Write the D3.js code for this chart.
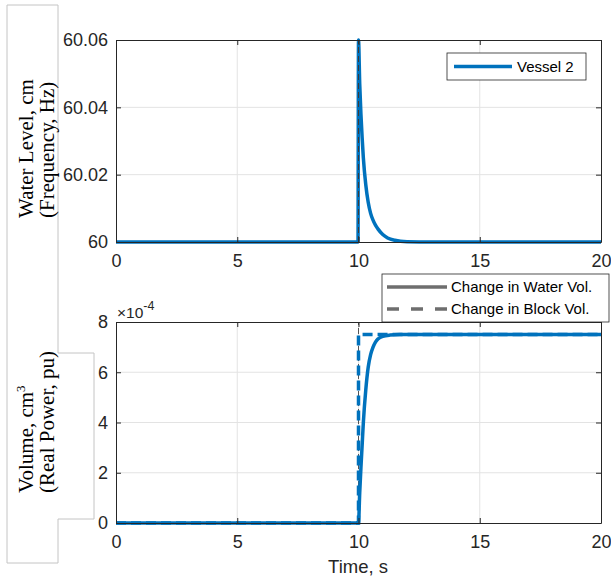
<!DOCTYPE html>
<html>
<head>
<meta charset="utf-8">
<script src="https://cdn.jsdelivr.net/npm/d3@7"></script>
<style>
  body { margin: 0; background: #fff; }
  svg { display: block; }
</style>
</head>
<body>
<div id="chart"></div>
<script>
// Values
const xTicks = [0, 5, 10, 15, 20];
const levelTicks = [60, 60.02, 60.04, 60.06];
const volTicks = [0, 2, 4, 6, 8];

// Vessel 2 water level (cm)
const levelTime  = [0, 9.98, 10, 10.05, 10.1, 10.15, 10.2, 10.3, 10.4, 10.5, 10.6, 10.7, 10.8, 11.0, 11.2, 11.5, 12.0, 13.0, 20];
const levelValue = [60, 60, 60.06, 60.047, 60.038, 60.031, 60.025, 60.017, 60.0118, 60.0085, 60.0065, 60.005, 60.0039, 60.0022, 60.0012, 60.0005, 60.0001, 60, 60];

// Change in water volume (x1e-4 cm^3)
const waterTime = [0, 10, 10.05, 10.1, 10.15, 10.2, 10.3, 10.4, 10.5, 10.6, 10.7, 10.8, 11.0, 11.3, 11.7, 20];
const waterVol  = [0, 0, 1.2, 2.2, 3.1, 4.0, 5.3, 6.2, 6.7, 7.0, 7.2, 7.32, 7.43, 7.48, 7.5, 7.5];

// Change in block volume (x1e-4 cm^3)
const blockTime = [0, 10, 10, 20];
const blockVol  = [0, 0, 7.5, 7.5];

const stepTime = 10;

const width = 611, height = 578;
const sans = "'Liberation Sans', Arial, Helvetica, sans-serif";
const serif = "'Liberation Serif', 'Times New Roman', serif";
const ink = "#262626";
const blue = "#0072BD";

const svg = d3.select("#chart")
    .append("svg")
    .attr("width", width)
    .attr("height", height);

svg.append("rect")
    .attr("width", width)
    .attr("height", height)
    .attr("fill", "#fff");

// frame around the y label captions
svg.append("path")
    .attr("d", "M7,5H58V353H94V519H58V563H7Z")
    .attr("fill", "#fff")
    .attr("stroke", "#c4c4c4")
    .attr("stroke-width", 1);

const x = d3.scaleLinear().domain([0, 20]).range([116, 601]);

function drawGrid(y, yTicks) {
    const [y0, y1] = y.range();
    const g = svg.append("g");
    g.selectAll(".gx")
        .data(xTicks.slice(1, -1))
        .enter().append("line")
        .attr("x1", d => x(d)).attr("x2", d => x(d))
        .attr("y1", y0).attr("y2", y1)
        .attr("stroke", "#e3e3e3");
    g.selectAll(".gy")
        .data(yTicks.slice(1, -1))
        .enter().append("line")
        .attr("x1", x.range()[0]).attr("x2", x.range()[1])
        .attr("y1", d => y(d)).attr("y2", d => y(d))
        .attr("stroke", "#e3e3e3");
}

function drawAxes(y, yTicks, yFormat) {
    const [y0, y1] = y.range();
    const bottom = svg.append("g")
        .attr("transform", `translate(0,${y0})`)
        .call(d3.axisBottom(x).tickValues(xTicks).tickSizeInner(-5).tickSizeOuter(0).tickPadding(12));
    const top = svg.append("g")
        .attr("transform", `translate(0,${y1})`)
        .call(d3.axisTop(x).tickValues(xTicks).tickSizeInner(-5).tickSizeOuter(0).tickFormat(""));
    const left = svg.append("g")
        .attr("transform", `translate(${x.range()[0]},0)`)
        .call(d3.axisLeft(y).tickValues(yTicks).tickSizeInner(-5).tickSizeOuter(0).tickPadding(8).tickFormat(yFormat));
    const right = svg.append("g")
        .attr("transform", `translate(${x.range()[1]},0)`)
        .call(d3.axisRight(y).tickValues(yTicks).tickSizeInner(-5).tickSizeOuter(0).tickFormat(""));

    [bottom, top, left, right].forEach(a => {
        a.select(".domain").attr("stroke", ink).attr("stroke-width", 1);
        a.selectAll(".tick line").attr("stroke", ink);
        a.selectAll("text")
            .attr("fill", ink)
            .style("font-family", sans)
            .style("font-size", "18px");
    });
}

// ---------- top panel: water level ----------
const yLevel = d3.scaleLinear().domain([60, 60.06]).range([242, 40]);
drawGrid(yLevel, levelTicks);

const levelLine = d3.line()
    .x(i => x(levelTime[i]))
    .y(i => yLevel(levelValue[i]))
    .curve(d3.curveMonotoneX);

svg.append("path")
    .datum(d3.range(levelTime.length))
    .attr("fill", "none")
    .attr("stroke", blue)
    .attr("stroke-width", 3.5)
    .attr("stroke-linejoin", "round")
    .attr("d", levelLine);

// reference mark at the step time
svg.append("line")
    .attr("x1", x(stepTime)).attr("x2", x(stepTime))
    .attr("y1", yLevel.range()[0]).attr("y2", yLevel.range()[1])
    .attr("stroke", "#3a3a3a")
    .attr("stroke-width", 1)
    .attr("stroke-dasharray", "6,3");

drawAxes(yLevel, levelTicks, d => d === 60 ? "60" : d.toFixed(2));

// legend
const leg1 = svg.append("g");
leg1.append("rect")
    .attr("x", 447).attr("y", 53)
    .attr("width", 139).attr("height", 27)
    .attr("fill", "#fff")
    .attr("stroke", ink)
    .attr("stroke-width", 0.8);
leg1.append("line")
    .attr("x1", 454).attr("x2", 512)
    .attr("y1", 66.5).attr("y2", 66.5)
    .attr("stroke", blue)
    .attr("stroke-width", 3.5);
leg1.append("text")
    .attr("x", 517).attr("y", 66.5)
    .attr("dy", "0.36em")
    .attr("fill", "#000")
    .style("font-family", sans)
    .style("font-size", "15px")
    .text("Vessel 2");

// ---------- bottom panel: volume ----------
const yVol = d3.scaleLinear().domain([0, 8]).range([523, 322]);
drawGrid(yVol, volTicks);

const volLine = (tArr, vArr, curve) => d3.line()
    .x(i => x(tArr[i]))
    .y(i => yVol(vArr[i]))
    .curve(curve);

svg.append("line")
    .attr("x1", x(stepTime)).attr("x2", x(stepTime))
    .attr("y1", yVol.range()[0]).attr("y2", yVol.range()[1])
    .attr("stroke", "#555")
    .attr("stroke-width", 1)
    .attr("stroke-dasharray", "6,3");

svg.append("path")
    .datum(d3.range(blockTime.length))
    .attr("fill", "none")
    .attr("stroke", blue)
    .attr("stroke-width", 3.5)
    .attr("stroke-dasharray", "10,5")
    .attr("d", volLine(blockTime, blockVol, d3.curveLinear));

svg.append("path")
    .datum(d3.range(waterTime.length))
    .attr("fill", "none")
    .attr("stroke", blue)
    .attr("stroke-width", 3.5)
    .attr("stroke-linejoin", "round")
    .attr("d", volLine(waterTime, waterVol, d3.curveMonotoneX));

drawAxes(yVol, volTicks, d3.format("d"));

// legend (sits on top of the axes edge)
const legItems = [
    {label: "Change in Water Vol.", dash: null},
    {label: "Change in Block Vol.", dash: "12,12"}
];
const leg2 = svg.append("g");
leg2.append("rect")
    .attr("x", 382).attr("y", 274)
    .attr("width", 227).attr("height", 48)
    .attr("fill", "#fff")
    .attr("stroke", ink)
    .attr("stroke-width", 0.8);
legItems.forEach((d, i) => {
    const yy = 287 + i * 22;
    leg2.append("line")
        .attr("x1", 387).attr("x2", 447)
        .attr("y1", yy).attr("y2", yy)
        .attr("stroke", "#6e6e6e")
        .attr("stroke-width", 3.5)
        .attr("stroke-dasharray", d.dash);
    leg2.append("text")
        .attr("x", 451).attr("y", yy)
        .attr("dy", "0.36em")
        .attr("fill", "#000")
        .style("font-family", sans)
        .style("font-size", "15px")
        .text(d.label);
});

// exponent, just above the top-left corner
const expo = svg.append("text")
    .attr("x", 117).attr("y", 318)
    .attr("fill", ink)
    .style("font-family", sans)
    .style("font-size", "15.5px");
expo.append("tspan").text("\u00d710");
expo.append("tspan").attr("dy", -8).style("font-size", "12.5px").text("-4");

// x axis label
svg.append("text")
    .attr("x", 358).attr("y", 573)
    .attr("text-anchor", "middle")
    .attr("fill", ink)
    .style("font-family", sans)
    .style("font-size", "18.5px")
    .text("Time, s");

// y labels (serif captions, start-aligned at the bottom)
function yCaption(startY, lines) {
    lines.forEach((parts, i) => {
        const t = svg.append("text")
            .attr("transform", `translate(${33 + i * 21},${startY}) rotate(-90)`)
            .attr("text-anchor", "start")
            .attr("fill", "#000")
            .style("font-family", serif)
            .style("font-size", "21px");
        parts.forEach(p => {
            const s = t.append("tspan").text(p.text);
            if (p.sup) s.attr("dy", -8).style("font-size", "13px");
        });
    });
}
yCaption(218, [[{text: "Water Level, cm"}], [{text: "(Frequency, Hz)"}]]);
yCaption(493, [[{text: "Volume, cm"}, {text: "3", sup: true}], [{text: "(Real Power, pu)"}]]);
</script>
</body>
</html>
